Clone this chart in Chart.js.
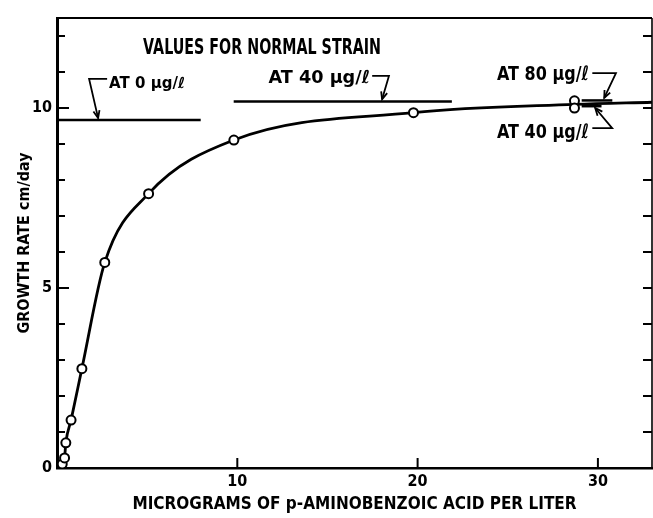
<!DOCTYPE html>
<html><head><meta charset="utf-8">
<script src="https://cdn.jsdelivr.net/npm/chart.js@4.4.1/dist/chart.umd.min.js"></script>
<style>html,body{margin:0;padding:0;background:#fff;}canvas{display:block;}</style>
</head><body>
<canvas id="c" width="653" height="518"></canvas>
<script>
// ---- data ----
const doseUg      = [0.29, 0.42, 0.49, 0.78, 1.38, 2.65, 5.08, 9.81, 19.77, 28.7, 28.7];
const growthRate  = [0.11, 0.28, 0.70, 1.33, 2.76, 5.71, 7.62, 9.11, 9.87, 10.2, 10.0];
const curveDose   = [0.29, 0.42, 0.49, 0.78, 1.38, 2.65, 5.08, 9.81, 19.77, 28.7, 33];
const curveRate   = [0.11, 0.28, 0.70, 1.33, 2.76, 5.71, 7.62, 9.11, 9.87, 10.1, 10.16];
const normal0Dose  = [0, 7.97];   const normal0Rate  = [9.67, 9.67];
const normal40Dose = [9.8, 21.9]; const normal40Rate = [10.18, 10.18];
const normal80Dose = [29.1, 30.8];const normal80Rate = [10.21, 10.21];
const normal40bDose= [29.1, 30.2];const normal40bRate= [10.05, 10.05];
const xTickValues = [10, 20, 30];
const xTickLabels = ['10', '20', '30'];
const yTickValues = [0,1,2,3,4,5,6,7,8,9,10,11,12];
const yLabelValues = [0, 5, 10];
const xTitle = 'MICROGRAMS OF p-AMINOBENZOIC ACID PER LITER';
const yTitle = 'GROWTH RATE cm/day';
const noteTexts = ['VALUES FOR NORMAL STRAIN', 'AT 0 \u00b5g/\u2113', 'AT 40 \u00b5g/\u2113', 'AT 80 \u00b5g/\u2113', 'AT 40 \u00b5g/\u2113'];
const noteX = [4.77, 2.89, 11.73, 24.4, 24.4];
const noteY = [11.5, 10.56, 10.69, 10.78, 9.17];
const noteSize = [21, 15, 18, 20, 20];
const noteScale = [0.68, 1.0, 0.98, 0.8, 0.8];
const arrows = [
  [[2.78,10.81],[1.78,10.81],[2.28,9.72]],
  [[17.48,10.89],[18.41,10.89],[18.03,10.24]],
  [[29.69,10.97],[31.0,10.97],[30.35,10.28]],
  [[29.69,9.44],[30.79,9.44],[29.85,10.0]]
];

const pts = (xs, ys) => xs.map((x, i) => ({x, y: ys[i]}));
const FONT = "'DejaVu Sans Condensed', 'DejaVu Sans', sans-serif";

const refLine = (xs, ys) => ({
  data: pts(xs, ys), showLine: true, borderColor: '#000', borderWidth: 2.5,
  pointRadius: 0, pointHoverRadius: 0, fill: false
});

const decor = {
  id: 'decor',
  afterDatasetsDraw(chart) {
    const {ctx, chartArea: a, scales: {x, y}} = chart;
    ctx.save();
    ctx.strokeStyle = '#000'; ctx.fillStyle = '#000'; ctx.lineCap = 'butt';
    // top & right frame
    ctx.lineWidth = 2;
    ctx.beginPath(); ctx.moveTo(a.left, a.top); ctx.lineTo(a.right, a.top); ctx.stroke();
    ctx.lineWidth = 1.6;
    ctx.beginPath(); ctx.moveTo(a.right, a.top); ctx.lineTo(a.right, a.bottom); ctx.stroke();
    // inward ticks
    ctx.lineWidth = 2;
    y.ticks.forEach(t => {
      if (t.value <= 0 || !Number.isInteger(t.value)) return;
      const py = y.getPixelForValue(t.value);
      const len = t.value % 5 === 0 ? 12 : 8;
      ctx.beginPath(); ctx.moveTo(a.left, py); ctx.lineTo(a.left + len, py); ctx.stroke();
      ctx.beginPath(); ctx.moveTo(a.right, py); ctx.lineTo(a.right - 9, py); ctx.stroke();
    });
    x.ticks.forEach(t => {
      if (!xTickValues.includes(t.value)) return;
      const px = x.getPixelForValue(t.value);
      ctx.beginPath(); ctx.moveTo(px, a.bottom); ctx.lineTo(px, a.bottom - 10); ctx.stroke();
    });
    // arrows
    ctx.lineWidth = 1.8;
    arrows.forEach(path => {
      const P = path.map(([dx, dy]) => [x.getPixelForValue(dx), y.getPixelForValue(dy)]);
      ctx.beginPath(); ctx.moveTo(P[0][0], P[0][1]);
      for (let i = 1; i < P.length; i++) ctx.lineTo(P[i][0], P[i][1]);
      ctx.stroke();
      const [x1, y1] = P[P.length - 2], [x2, y2] = P[P.length - 1];
      const ang = Math.atan2(y2 - y1, x2 - x1), L = 8;
      ctx.beginPath();
      ctx.moveTo(x2 - L * Math.cos(ang - 0.4), y2 - L * Math.sin(ang - 0.4));
      ctx.lineTo(x2, y2);
      ctx.lineTo(x2 - L * Math.cos(ang + 0.4), y2 - L * Math.sin(ang + 0.4));
      ctx.stroke();
    });
    // notes
    ctx.textBaseline = 'alphabetic'; ctx.textAlign = 'left';
    noteTexts.forEach((txt, i) => {
      const px = x.getPixelForValue(noteX[i]), py = y.getPixelForValue(noteY[i]);
      ctx.save();
      ctx.font = `bold ${noteSize[i]}px 'DejaVu Sans', sans-serif`;
      ctx.translate(px, py); ctx.scale(noteScale[i], 1);
      ctx.fillText(txt, 0, 0);
      ctx.restore();
    });
    ctx.restore();
  }
};

new Chart(document.getElementById('c'), {
  type: 'scatter',
  data: {
    datasets: [
      { data: pts(doseUg, growthRate), pointRadius: 4.5, pointBorderWidth: 2,
        pointBorderColor: '#000', pointBackgroundColor: '#fff', showLine: false },
      { data: pts(curveDose, curveRate), showLine: true, borderColor: '#000', borderWidth: 2.8,
        cubicInterpolationMode: 'monotone', pointRadius: 0, fill: false },
      refLine(normal0Dose, normal0Rate),
      refLine(normal40Dose, normal40Rate),
      refLine(normal80Dose, normal80Rate),
      refLine(normal40bDose, normal40bRate)
    ]
  },
  options: {
    responsive: false, animation: false, devicePixelRatio: 1,
    layout: { autoPadding: false, padding: { top: 18, right: 1, left: 0, bottom: 0 } },
    plugins: { legend: { display: false }, tooltip: { enabled: false } },
    scales: {
      x: {
        type: 'linear', min: 0, max: 33,
        afterFit: s => { s.height = 50; s.paddingLeft = 0; s.paddingRight = 0; },
        afterBuildTicks: s => { s.ticks = xTickValues.map(v => ({ value: v })); },
        grid: { display: false, drawTicks: false },
        border: { display: true, color: '#000', width: 2.5 },
        ticks: { color: '#000', padding: 4, autoSkip: false, maxRotation: 0,
          font: { family: FONT, size: 16, weight: 'bold' },
          callback: v => xTickLabels[xTickValues.indexOf(v)] ?? '' },
        title: { display: true, text: xTitle, color: '#000', padding: { top: 0, bottom: 3 },
          font: { family: FONT, size: 17, weight: 'bold' } }
      },
      y: {
        type: 'linear', min: 0, max: 12.5,
        afterFit: s => { s.width = 57; s.paddingTop = 0; s.paddingBottom = 0; },
        afterBuildTicks: s => { s.ticks = yTickValues.map(v => ({ value: v })); },
        grid: { display: false, drawTicks: false },
        border: { display: true, color: '#000', width: 3 },
        ticks: { color: '#000', padding: 5, autoSkip: false,
          font: { family: FONT, size: 16, weight: 'bold' },
          callback: v => yLabelValues.includes(v) ? String(v) : '' },
        title: { display: true, text: yTitle, color: '#000', padding: { top: 15, bottom: 0 },
          font: { family: FONT, size: 16, weight: 'bold' } }
      }
    }
  },
  plugins: [decor]
});
</script>
</body></html>
